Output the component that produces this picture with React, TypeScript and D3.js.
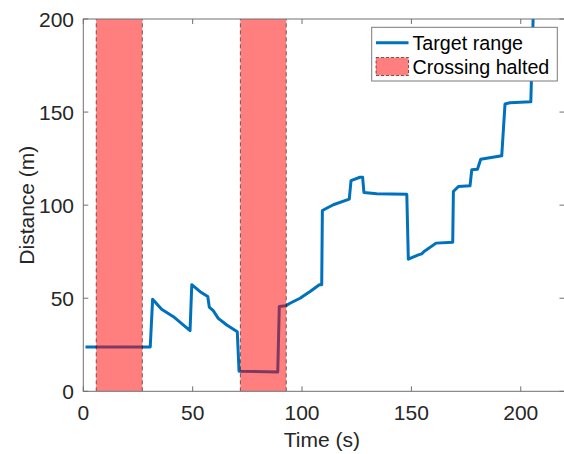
import React from 'react';
import * as d3 from 'd3';

// target range trace
const timeS = [1, 30.6, 31.7, 35.8, 41.2, 48.8, 49.6, 53.4, 56.9, 57.6, 59.4, 61.7, 65.6, 70.4, 71.2, 88.9, 89.6, 92.5, 94.5, 99.1, 100.6, 103.7, 107.9, 109.0, 109.3, 114.3, 121.6, 122.4, 126.5, 127.7, 128.3, 134.1, 147.9, 148.6, 153.2, 154.7, 155.8, 161.3, 168.9, 169.2, 171.5, 176.8, 177.6, 180.2, 181.7, 191.3, 192.8, 195.1, 204.6, 206];
const distanceM = [23.8, 23.8, 49.5, 44.1, 40.1, 32.6, 57.3, 53.5, 50.9, 45.2, 43.3, 39.2, 35.6, 32.0, 10.8, 10.4, 45.5, 45.9, 47.3, 50, 51.2, 53.6, 57.2, 57.2, 97.1, 100.2, 103.2, 113.2, 115, 115, 106.8, 106.1, 105.9, 71.0, 73.3, 73.8, 75.1, 79.6, 80.1, 107.3, 110, 110.4, 119, 119.3, 124.7, 126.5, 154.3, 155, 155.5, 215];

// crossing halted intervals (s)
const haltStart = [5.9, 71.8];
const haltEnd = [27.0, 92.8];

const xTicks = [0, 50, 100, 150, 200];
const yTicks = [0, 50, 100, 150, 200];

const W = 564;
const H = 454;
const FONT = '"Liberation Sans", Arial, Helvetica, sans-serif';

export default function App() {
  const left = 83.3, right = 564.5, top = 19, bottom = 391.3;
  const x = d3.scaleLinear().domain([0, 220]).range([left, right]);
  const y = d3.scaleLinear().domain([0, 200]).range([bottom, top]);

  const pts: [number, number][] = timeS.map((t, i) => [t, distanceM[i]]);
  const line = d3.line<[number, number]>().x(d => x(d[0])).y(d => y(d[1]));

  const axisColor = '#707070';
  const tickLen = 5;

  return (
    <svg width={W} height={H} style={{ position: 'absolute', left: 0, top: 0 }} fontFamily={FONT}>
      <defs>
        <clipPath id="plot">
          <rect x={left} y={top} width={right - left} height={bottom - top} />
        </clipPath>
      </defs>
      <rect x={0} y={0} width={W} height={H} fill="#fff" />

      <g clipPath="url(#plot)">
        <path d={line(pts) ?? ''} fill="none" stroke="#0072BD" strokeWidth={3} strokeLinejoin="round" />
        {haltStart.map((s, i) => (
          <g key={i}>
            <rect x={x(s)} y={y(200)} width={x(haltEnd[i]) - x(s)} height={y(0) - y(200)}
              fill="#FF0000" fillOpacity={0.5} />
            <line x1={x(s)} x2={x(s)} y1={y(0)} y2={y(200)} stroke="#000" strokeOpacity={0.55} strokeDasharray="4,3" />
            <line x1={x(haltEnd[i])} x2={x(haltEnd[i])} y1={y(0)} y2={y(200)} stroke="#000" strokeOpacity={0.55} strokeDasharray="4,3" />
          </g>
        ))}
      </g>

      {/* axes box */}
      <rect x={left} y={top} width={right - left} height={bottom - top} fill="none" stroke={axisColor} strokeWidth={1} />
      {xTicks.map(t => (
        <g key={'x' + t}>
          <line x1={x(t)} x2={x(t)} y1={bottom} y2={bottom - tickLen} stroke={axisColor} />
          <line x1={x(t)} x2={x(t)} y1={top} y2={top + tickLen} stroke={axisColor} />
          <text x={x(t)} y={420} textAnchor="middle" fontSize={21} fill="#262626">{t}</text>
        </g>
      ))}
      {yTicks.map(t => (
        <g key={'y' + t}>
          <line x1={left} x2={left + tickLen} y1={y(t)} y2={y(t)} stroke={axisColor} />
          <line x1={right} x2={right - tickLen} y1={y(t)} y2={y(t)} stroke={axisColor} />
          <text x={74} y={y(t)} dy="0.36em" textAnchor="end" fontSize={21} fill="#262626">{t}</text>
        </g>
      ))}

      <text x={(left + right) / 2 - 2} y={447} textAnchor="middle" fontSize={21} fill="#262626">Time (s)</text>
      <text transform={`translate(34,${(top + bottom) / 2}) rotate(-90)`} textAnchor="middle" fontSize={21} fill="#262626">Distance (m)</text>

      {/* legend */}
      <g>
        <rect x={371.7} y={27.3} width={185.6} height={53.7} fill="#fff" stroke="#7a7a7a" strokeWidth={1} />
        <line x1={376} x2={408.5} y1={42.7} y2={42.7} stroke="#0072BD" strokeWidth={3} />
        <text x={412.5} y={49.5} fontSize={19.7} fill="#000">Target range</text>
        <rect x={376} y={57.5} width={32.5} height={18} fill="#FF0000" fillOpacity={0.5}
          stroke="#000" strokeOpacity={0.55} strokeDasharray="3,2" />
        <text x={412.5} y={73.5} fontSize={19.7} fill="#000">Crossing halted</text>
      </g>
    </svg>
  );
}
